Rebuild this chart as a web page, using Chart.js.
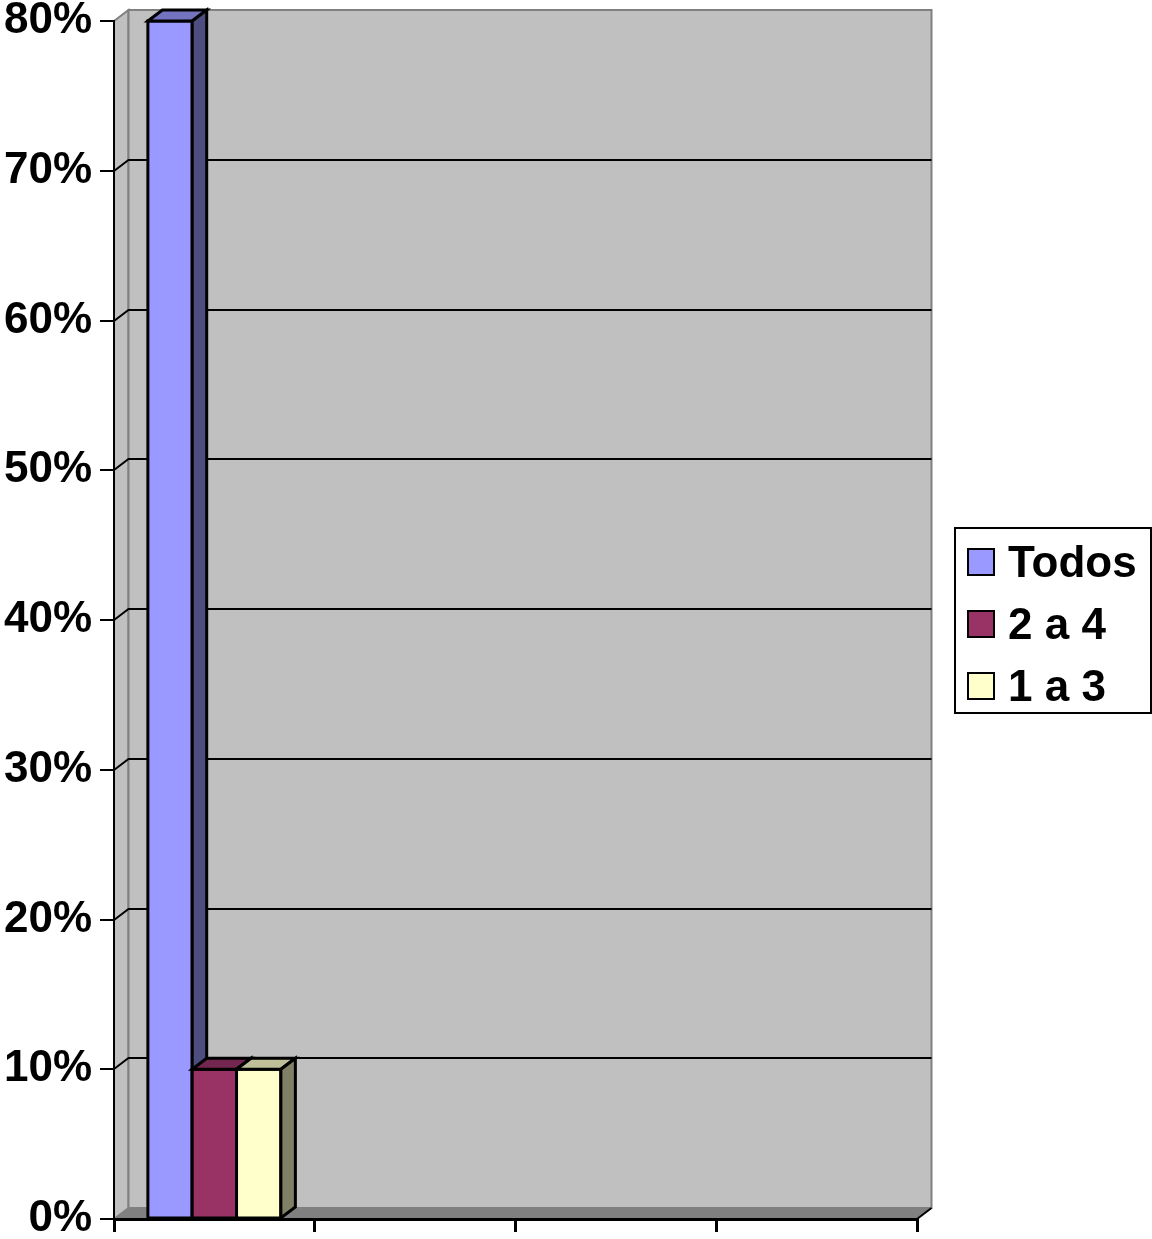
<!DOCTYPE html>
<html>
<head>
<meta charset="utf-8">
<script src="https://cdn.jsdelivr.net/npm/chart.js@4/dist/chart.umd.min.js"></script>
<style>
body{margin:0;background:#fff;}
#wrap{position:relative;width:1152px;height:1239px;}
#legend{position:absolute;left:954px;top:527px;width:194px;height:183px;border:2px solid #000;background:#fff;
  font:bold 44px "Liberation Sans",Arial,sans-serif;color:#000;}
.item{position:absolute;left:11px;height:62px;display:flex;align-items:center;white-space:nowrap;}
.sw{width:24px;height:24px;border:2px solid #000;margin-right:13px;}
</style>
</head>
<body>
<div id="wrap">
  <canvas id="chart" width="1152" height="1239"></canvas>
  <div id="legend"></div>
</div>
<script>
// data
const categories = ['', '', '', ''];
const seriesNames = ['Todos', '2 a 4', '1 a 3'];
const todos = [80, null, null, null];
const dosA4 = [10, null, null, null];
const unoA3 = [10, null, null, null];
const yMin = 0, yMax = 80, yStep = 10;

const colors = ['#9999ff', '#993366', '#ffffcc'];
const topColors = ['#7373bf', '#732650', '#bfbf99'];
const sideColors = ['#4d4d80', '#4d1a33', '#808066'];

// 3d depth offset
const DX = 14.5, DY = -11;

function poly(ctx, pts, fill, stroke, lw){
  ctx.beginPath();
  ctx.moveTo(pts[0][0], pts[0][1]);
  for(let i=1;i<pts.length;i++) ctx.lineTo(pts[i][0], pts[i][1]);
  ctx.closePath();
  if(fill){ ctx.fillStyle = fill; ctx.fill(); }
  if(stroke){ ctx.strokeStyle = stroke; ctx.lineWidth = lw; ctx.stroke(); }
}

// back wall, side wall, floor and gridlines on the wall
const walls = {
  id: 'walls',
  beforeDraw(chart){
    const {ctx, chartArea:a, scales:{y}} = chart;
    ctx.save();
    ctx.lineJoin = 'miter';
    poly(ctx, [[a.left,a.top],[a.left+DX,a.top+DY],[a.left+DX,a.bottom+DY],[a.left,a.bottom]], '#c0c0c0', '#808080', 2);
    poly(ctx, [[a.left+DX,a.top+DY],[a.right+DX,a.top+DY],[a.right+DX,a.bottom+DY],[a.left+DX,a.bottom+DY]], '#c0c0c0', '#808080', 2);
    poly(ctx, [[a.left,a.bottom],[a.left+DX,a.bottom+DY],[a.right+DX,a.bottom+DY],[a.right,a.bottom]], '#808080', null);
    ctx.strokeStyle = '#000'; ctx.lineWidth = 2;
    ctx.beginPath();
    ctx.moveTo(a.right, a.bottom); ctx.lineTo(a.right+DX, a.bottom+DY);
    ctx.stroke();
    y.ticks.forEach(t => {
      if(t.value <= y.min || t.value >= y.max) return;
      const py = Math.round(y.getPixelForValue(t.value));
      ctx.beginPath();
      ctx.moveTo(a.left, py);
      ctx.lineTo(a.left+DX, py+DY);
      ctx.lineTo(a.right+DX, py+DY);
      ctx.stroke();
    });
    ctx.restore();
  }
};

// front, top and side faces of each bar, from the bar elements
const bars3d = {
  id: 'bars3d',
  afterDatasetsDraw(chart){
    const ctx = chart.ctx;
    ctx.save();
    ctx.lineJoin = 'miter';
    chart.data.datasets.forEach((ds, i) => {
      const meta = chart.getDatasetMeta(i);
      meta.data.forEach((bar, j) => {
        if(ds.data[j] == null) return;
        const {x, y, base, width} = bar.getProps(['x','y','base','width'], true);
        const l = x - width/2, r = x + width/2;
        poly(ctx, [[l,y],[r,y],[r,base],[l,base]], colors[i], '#000', 3);
        poly(ctx, [[l,y],[l+DX,y+DY],[r+DX,y+DY],[r,y]], topColors[i], '#000', 3);
        poly(ctx, [[r,y],[r+DX,y+DY],[r+DX,base+DY],[r,base]], sideColors[i], '#000', 3);
      });
    });
    ctx.restore();
  }
};

Chart.defaults.font.family = '"Liberation Sans", Arial, sans-serif';
Chart.defaults.color = '#000';

new Chart(document.getElementById('chart'), {
  type: 'bar',
  data: {
    labels: categories,
    datasets: [
      {label: seriesNames[0], data: todos, backgroundColor: colors[0]},
      {label: seriesNames[1], data: dosA4, backgroundColor: colors[1]},
      {label: seriesNames[2], data: unoA3, backgroundColor: colors[2]}
    ]
  },
  options: {
    responsive: false,
    animation: false,
    devicePixelRatio: 1,
    layout: {padding: {left: 0, right: 235, top: 21, bottom: 0}},
    datasets: {bar: {categoryPercentage: 0.6625, barPercentage: 1, borderColor: '#000', borderWidth: 2, clip: false}},
    plugins: {legend: {display: false}, tooltip: {enabled: false}},
    scales: {
      x: {
        offset: true,
        ticks: {display: false},
        grid: {offset: true, drawOnChartArea: false, drawTicks: true, tickLength: 13, color: '#000', lineWidth: 3},
        border: {color: '#000', width: 3},
        afterFit: s => { s.height = 20; s.paddingLeft = 0; s.paddingRight = 0; }
      },
      y: {
        min: yMin, max: yMax,
        ticks: {stepSize: yStep, padding: 8, font: {size: 44, weight: 'bold'}, callback: v => v + '%'},
        grid: {drawOnChartArea: false, drawTicks: true, tickLength: 14, color: '#000', lineWidth: 2},
        border: {color: '#000', width: 2},
        afterFit: s => { s.width = 114; s.paddingTop = 0; s.paddingBottom = 0; }
      }
    }
  },
  plugins: [walls, bars3d]
});

// legend
const legend = document.getElementById('legend');
seriesNames.forEach((name, i) => {
  const item = document.createElement('div');
  item.className = 'item';
  item.style.top = (2 + i*62) + 'px';
  item.innerHTML = `<span class="sw" style="background:${colors[i]}"></span><span>${name}</span>`;
  legend.appendChild(item);
});
</script>
</body>
</html>
